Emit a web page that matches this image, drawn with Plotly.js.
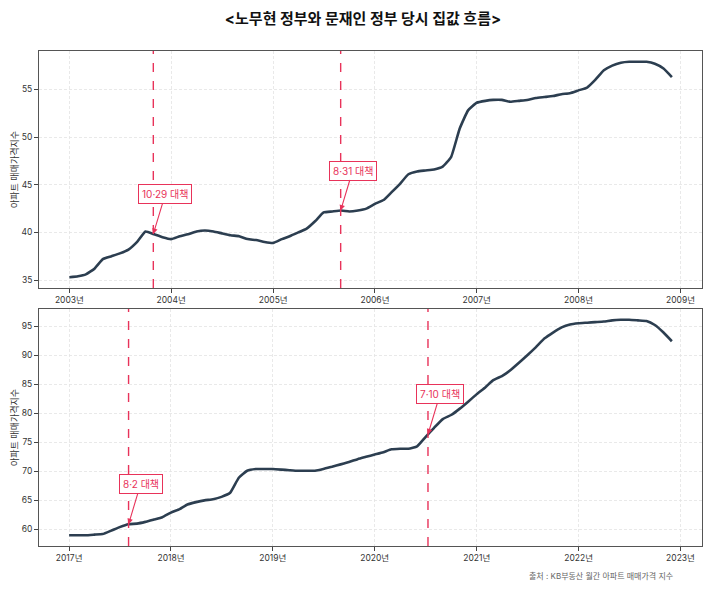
<!DOCTYPE html>
<html>
<head>
<meta charset="utf-8">
<script src="https://cdn.plot.ly/plotly-3.0.1.min.js"></script>
<style>
  html, body { margin: 0; padding: 0; background: #fff; }
  #chart { width: 726px; height: 603px; }
</style>
</head>
<body>
<div id="chart"></div>
<script>
// 노무현 정부 (2003-01 ~ 2008-12), 월간 지수
const rohValues = [
    35.3, 35.4, 35.6, 36.2, 37.2, 37.5, 37.8, 38.2, 39.0, 40.1, 39.8, 39.5,
    39.3, 39.6, 39.8, 40.1, 40.2, 40.1, 39.9, 39.7, 39.6, 39.3, 39.2, 39.0,
    38.9, 39.3, 39.6, 40.0, 40.4, 41.2, 42.1, 42.2, 42.3, 42.2, 42.3, 42.5,
    43.0, 43.4, 44.2, 45.1, 46.1, 46.4, 46.5, 46.6, 46.9, 47.9, 50.9, 52.8,
    53.6, 53.8, 53.9, 53.9, 53.7, 53.8, 53.9, 54.1, 54.2, 54.3, 54.5, 54.6,
    54.9, 55.2, 56.0, 57.0, 57.5, 57.8, 57.9, 57.9, 57.9, 57.7, 57.2, 56.3
];
// 문재인 정부 (2017-01 ~ 2022-12), 월간 지수
const moonValues = [
    59.0, 59.0, 59.0, 59.1, 59.2, 59.8, 60.4, 60.9, 61.0, 61.3, 61.7, 62.1,
    62.9, 63.5, 64.3, 64.7, 65.0, 65.2, 65.6, 66.3, 68.9, 70.1, 70.4, 70.4,
    70.4, 70.3, 70.2, 70.1, 70.1, 70.1, 70.4, 70.8, 71.2, 71.6, 72.1, 72.5,
    72.9, 73.3, 73.8, 73.9, 73.9, 74.3, 75.9, 77.5, 79.0, 79.7, 80.8, 82.0,
    83.3, 84.5, 85.7, 86.4, 87.4, 88.7, 90.0, 91.4, 92.9, 93.9, 94.8, 95.3,
    95.5, 95.6, 95.7, 95.8, 96.0, 96.1, 96.1, 96.0, 95.9, 95.2, 93.9, 92.4
];
const rohStartYear = 2003;
const moonStartYear = 2017;

// 정책 발표일
const rohPolicyDates = ['2003-10-29', '2005-08-31'];
const rohPolicyLabels = ['10·29 대책', '8·31 대책'];
const moonPolicyDates = ['2017-08-02', '2020-07-10'];
const moonPolicyLabels = ['8·2 대책', '7·10 대책'];

const rohTicks = ['2003', '2004', '2005', '2006', '2007', '2008', '2009'];
const moonTicks = ['2017', '2018', '2019', '2020', '2021', '2022', '2023'];

const LINE_COLOR = '#2c3e50';
const POLICY_COLOR = '#e8335a';
const FONT = 'Inter, "Noto Sans CJK KR", sans-serif';

function monthDates(startYear, n) {
    const out = [];
    for (let i = 0; i < n; i++) {
        const y = startYear + Math.floor(i / 12);
        const m = (i % 12) + 1;
        out.push(`${y}-${String(m).padStart(2, '0')}-01`);
    }
    return out;
}

// 발표일의 지수 값 (앞뒤 월 사이 값)
function valueAt(dates, values, day) {
    const t = new Date(day).getTime();
    for (let i = 0; i < dates.length - 1; i++) {
        const a = new Date(dates[i]).getTime();
        const b = new Date(dates[i + 1]).getTime();
        if (t >= a && t <= b) {
            return values[i] + (values[i + 1] - values[i]) * (t - a) / (b - a);
        }
    }
    return values[values.length - 1];
}

// matplotlib 식 5% 여백
function padRange(lo, hi) {
    const p = (hi - lo) * 0.05;
    return [lo - p, hi + p];
}
function dateRange(dates) {
    const a = new Date(dates[0]).getTime();
    const b = new Date(dates[dates.length - 1]).getTime();
    const [lo, hi] = padRange(a, b);
    return [new Date(lo).toISOString().slice(0, 10), new Date(hi).toISOString().slice(0, 10)];
}

const rohDates = monthDates(rohStartYear, rohValues.length);
const moonDates = monthDates(moonStartYear, moonValues.length);

const traces = [
    { x: rohDates, y: rohValues, type: 'scatter', mode: 'lines',
      line: { color: LINE_COLOR, width: 2.6, shape: 'spline', smoothing: 0.4 },
      xaxis: 'x', yaxis: 'y', hoverinfo: 'x+y' },
    { x: moonDates, y: moonValues, type: 'scatter', mode: 'lines',
      line: { color: LINE_COLOR, width: 2.6, shape: 'spline', smoothing: 0.4 },
      xaxis: 'x2', yaxis: 'y2', hoverinfo: 'x+y' }
];

const shapes = [];
const annotations = [];

function addPolicies(dates, values, policyDates, labels, xref, yref) {
    policyDates.forEach((d, i) => {
        shapes.push({
            type: 'line', xref: xref, yref: yref + ' domain',
            x0: d, x1: d, y0: 0, y1: 1,
            line: { color: POLICY_COLOR, width: 1.4, dash: 'dash' }
        });
        annotations.push({
            xref: xref, yref: yref, x: d, y: valueAt(dates, values, d),
            text: labels[i], showarrow: true,
            ax: 12, ay: -40,
            arrowhead: 2, arrowsize: 1, arrowwidth: 1.1, arrowcolor: POLICY_COLOR,
            font: { family: FONT, size: 10, color: POLICY_COLOR },
            bgcolor: '#fff', bordercolor: POLICY_COLOR, borderwidth: 1, borderpad: 3
        });
    });
}
addPolicies(rohDates, rohValues, rohPolicyDates, rohPolicyLabels, 'x', 'y');
addPolicies(moonDates, moonValues, moonPolicyDates, moonPolicyLabels, 'x2', 'y2');

annotations.push({
    xref: 'paper', yref: 'paper', x: 675 / 726, y: 1 - 576 / 603,
    xanchor: 'right', yanchor: 'middle', showarrow: false,
    text: '출처 : KB부동산 월간 아파트 매매가격 지수',
    font: { family: FONT, size: 8, color: '#666' }
});

function xAxis(dates, ticks, domain) {
    return {
        type: 'date', domain: domain, range: dateRange(dates),
        tickvals: ticks.map(t => t + '-01-01'), ticktext: ticks.map(t => t + '년'),
        tickfont: { family: FONT, size: 8.5, color: '#333' },
        ticks: 'outside', ticklen: 4, tickcolor: '#444',
        showgrid: true, gridcolor: '#e4e4e4', griddash: '3px,2px', gridwidth: 0.8,
        showline: true, mirror: true, linecolor: '#555', linewidth: 1,
        zeroline: false
    };
}
function yAxis(values, tickvals, domain, anchor) {
    return {
        domain: domain, anchor: anchor,
        range: padRange(Math.min(...values), Math.max(...values)),
        tickvals: tickvals,
        tickfont: { family: FONT, size: 8.5, color: '#333' },
        ticks: 'outside', ticklen: 4, tickcolor: '#444',
        showgrid: true, gridcolor: '#e4e4e4', griddash: '3px,2px', gridwidth: 0.8,
        showline: true, mirror: true, linecolor: '#555', linewidth: 1,
        zeroline: false,
        title: { text: '아파트 매매가격지수', font: { family: FONT, size: 9, color: '#333' }, standoff: 1 }
    };
}

const xDomain = [39 / 726, 702 / 726];
const layout = {
    width: 726, height: 603,
    margin: { l: 0, r: 0, t: 0, b: 0 },
    paper_bgcolor: '#fff', plot_bgcolor: '#fff',
    showlegend: false,
    font: { family: FONT },
    title: {
        text: '<b><노무현 정부와 문재인 정부 당시 집값 흐름></b>',
        font: { family: FONT, size: 15, color: '#111' },
        x: 0.5, xanchor: 'center', y: 1 - 19 / 603, yanchor: 'middle'
    },
    xaxis: Object.assign(xAxis(rohDates, rohTicks, xDomain), { anchor: 'y' }),
    yaxis: yAxis(rohValues, [35, 40, 45, 50, 55], [1 - 288 / 603, 1 - 51 / 603], 'x'),
    xaxis2: Object.assign(xAxis(moonDates, moonTicks, xDomain), { anchor: 'y2' }),
    yaxis2: yAxis(moonValues, [60, 65, 70, 75, 80, 85, 90, 95], [1 - 546 / 603, 1 - 309 / 603], 'x2'),
    shapes: shapes,
    annotations: annotations
};

Plotly.newPlot('chart', traces, layout, { displayModeBar: false, staticPlot: true });
</script>
</body>
</html>
